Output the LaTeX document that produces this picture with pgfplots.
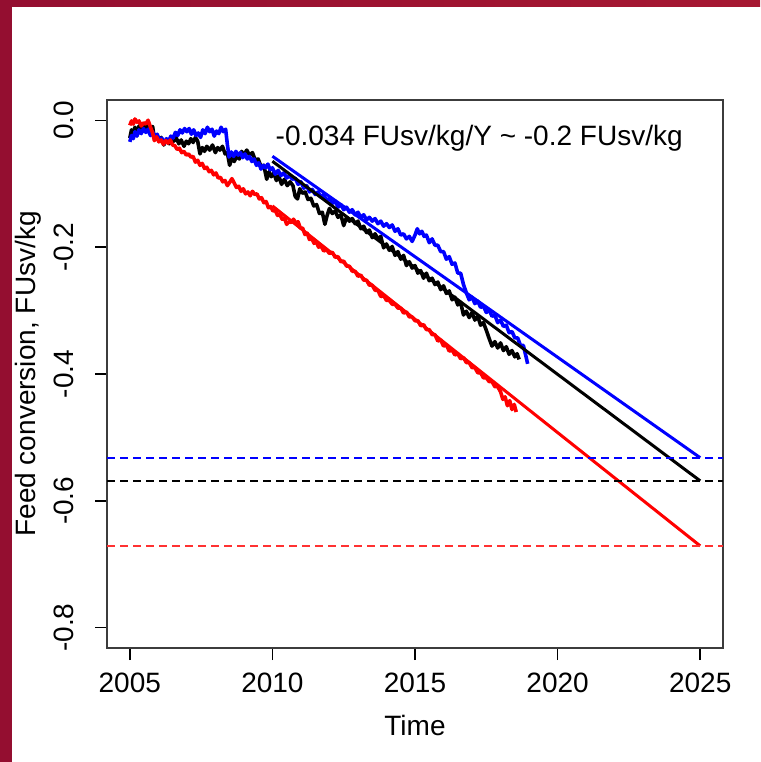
\documentclass[border=0pt]{standalone}
\usepackage{pgfplots}
\pgfplotsset{compat=1.18}
\usepackage{fontspec}
\setmainfont{Liberation Sans}
\definecolor{maroonA}{RGB}{148,14,48}
\definecolor{maroonB}{RGB}{166,24,50}
\definecolor{boxgray}{RGB}{60,60,60}
\definecolor{dashred}{RGB}{255,50,50}

\pgfplotstableread{
yr v
2005.00 -0.034
2005.06 -0.024
2005.12 -0.029
2005.18 -0.018
2005.25 -0.025
2005.32 -0.015
2005.40 -0.021
2005.48 -0.013
2005.56 -0.019
2005.64 -0.014
2005.72 -0.024
2005.80 -0.018
2005.88 -0.027
2005.96 -0.022
2006.04 -0.031
2006.12 -0.028
2006.20 -0.037
2006.28 -0.029
2006.36 -0.033
2006.44 -0.025
2006.52 -0.028
2006.60 -0.019
2006.68 -0.024
2006.76 -0.015
2006.84 -0.020
2006.92 -0.013
2007.00 -0.018
2007.08 -0.013
2007.16 -0.022
2007.24 -0.015
2007.32 -0.024
2007.40 -0.020
2007.48 -0.027
2007.56 -0.015
2007.64 -0.021
2007.72 -0.011
2007.80 -0.018
2007.88 -0.014
2007.96 -0.025
2008.04 -0.017
2008.12 -0.021
2008.20 -0.011
2008.28 -0.018
2008.36 -0.014
2008.42 -0.038
2008.48 -0.058
2008.56 -0.050
2008.64 -0.057
2008.72 -0.049
2008.80 -0.055
2008.88 -0.051
2008.96 -0.059
2009.04 -0.053
2009.12 -0.061
2009.20 -0.057
2009.28 -0.065
2009.36 -0.061
2009.44 -0.071
2009.52 -0.067
2009.60 -0.077
2009.68 -0.071
2009.76 -0.075
2009.84 -0.069
2009.92 -0.078
2010.00 -0.075
2010.10 -0.085
2010.20 -0.079
2010.30 -0.087
2010.40 -0.083
2010.50 -0.091
2010.60 -0.087
2010.70 -0.093
2010.80 -0.091
2010.90 -0.101
2011.00 -0.097
2011.10 -0.107
2011.20 -0.103
2011.30 -0.113
2011.40 -0.109
2011.50 -0.117
2011.60 -0.113
2011.70 -0.121
2011.80 -0.117
2011.90 -0.127
2012.00 -0.123
2012.10 -0.131
2012.20 -0.127
2012.30 -0.137
2012.40 -0.133
2012.50 -0.141
2012.60 -0.137
2012.70 -0.145
2012.80 -0.141
2012.90 -0.149
2013.00 -0.145
2013.10 -0.153
2013.20 -0.149
2013.30 -0.157
2013.40 -0.153
2013.50 -0.159
2013.60 -0.155
2013.70 -0.163
2013.80 -0.159
2013.90 -0.167
2014.00 -0.163
2014.10 -0.169
2014.20 -0.165
2014.30 -0.175
2014.40 -0.171
2014.50 -0.181
2014.60 -0.179
2014.70 -0.187
2014.80 -0.183
2014.90 -0.191
2015.00 -0.181
2015.08 -0.171
2015.16 -0.179
2015.24 -0.175
2015.32 -0.183
2015.40 -0.181
2015.50 -0.193
2015.60 -0.187
2015.70 -0.197
2015.80 -0.197
2015.90 -0.207
2016.00 -0.207
2016.10 -0.219
2016.20 -0.215
2016.30 -0.227
2016.40 -0.225
2016.50 -0.241
2016.60 -0.241
2016.70 -0.259
2016.80 -0.272
2016.90 -0.283
2017.00 -0.279
2017.10 -0.289
2017.20 -0.285
2017.30 -0.295
2017.40 -0.293
2017.50 -0.303
2017.60 -0.299
2017.70 -0.309
2017.80 -0.307
2017.90 -0.319
2018.00 -0.315
2018.10 -0.325
2018.20 -0.323
2018.30 -0.335
2018.40 -0.333
2018.50 -0.343
2018.60 -0.343
2018.70 -0.355
2018.80 -0.355
2018.90 -0.374
2018.95 -0.384
}\bluedata

\pgfplotstableread{
yr v
2005.00 -0.028
2005.06 -0.015
2005.12 -0.020
2005.18 -0.011
2005.25 -0.022
2005.32 -0.009
2005.40 -0.015
2005.48 -0.007
2005.56 -0.013
2005.64 -0.005
2005.72 -0.011
2005.80 -0.010
2005.86 -0.028
2005.94 -0.023
2006.02 -0.033
2006.10 -0.027
2006.19 -0.039
2006.28 -0.031
2006.38 -0.037
2006.46 -0.029
2006.54 -0.033
2006.62 -0.027
2006.72 -0.037
2006.80 -0.031
2006.90 -0.041
2006.98 -0.033
2007.06 -0.037
2007.14 -0.029
2007.22 -0.035
2007.30 -0.027
2007.38 -0.033
2007.46 -0.053
2007.54 -0.043
2007.62 -0.049
2007.70 -0.041
2007.80 -0.047
2007.90 -0.039
2008.00 -0.051
2008.08 -0.043
2008.16 -0.047
2008.25 -0.041
2008.34 -0.053
2008.42 -0.051
2008.50 -0.071
2008.58 -0.059
2008.66 -0.065
2008.75 -0.057
2008.84 -0.061
2008.92 -0.049
2009.00 -0.055
2009.10 -0.047
2009.20 -0.055
2009.30 -0.051
2009.40 -0.063
2009.50 -0.061
2009.60 -0.073
2009.70 -0.071
2009.80 -0.093
2009.88 -0.081
2009.96 -0.089
2010.05 -0.083
2010.14 -0.095
2010.22 -0.087
2010.32 -0.101
2010.42 -0.093
2010.52 -0.103
2010.62 -0.097
2010.72 -0.103
2010.80 -0.120
2010.88 -0.124
2010.96 -0.108
2011.05 -0.115
2011.15 -0.113
2011.25 -0.125
2011.35 -0.123
2011.45 -0.135
2011.55 -0.133
2011.65 -0.147
2011.75 -0.145
2011.84 -0.164
2011.92 -0.150
2012.00 -0.139
2012.10 -0.147
2012.20 -0.143
2012.30 -0.153
2012.40 -0.149
2012.50 -0.166
2012.60 -0.153
2012.70 -0.159
2012.80 -0.155
2012.90 -0.163
2013.00 -0.159
2013.10 -0.171
2013.20 -0.167
2013.30 -0.177
2013.40 -0.173
2013.50 -0.185
2013.60 -0.179
2013.70 -0.187
2013.80 -0.183
2013.90 -0.201
2014.00 -0.195
2014.10 -0.205
2014.20 -0.199
2014.30 -0.213
2014.40 -0.207
2014.50 -0.219
2014.60 -0.213
2014.70 -0.229
2014.80 -0.223
2014.90 -0.233
2015.00 -0.229
2015.10 -0.241
2015.20 -0.237
2015.30 -0.249
2015.40 -0.241
2015.50 -0.253
2015.60 -0.249
2015.70 -0.259
2015.80 -0.255
2015.90 -0.267
2016.00 -0.261
2016.10 -0.273
2016.20 -0.269
2016.30 -0.283
2016.40 -0.279
2016.50 -0.291
2016.60 -0.287
2016.70 -0.307
2016.80 -0.301
2016.90 -0.311
2017.00 -0.303
2017.10 -0.315
2017.20 -0.309
2017.30 -0.323
2017.40 -0.319
2017.50 -0.331
2017.60 -0.344
2017.70 -0.356
2017.80 -0.349
2017.90 -0.359
2018.00 -0.351
2018.10 -0.363
2018.20 -0.357
2018.30 -0.369
2018.40 -0.363
2018.50 -0.373
2018.58 -0.368
2018.65 -0.377
}\blackdata

\pgfplotstableread{
yr v
2005.00 -0.008
2005.06 -0.001
2005.12 -0.006
2005.18 0.002
2005.25 -0.003
2005.32 -0.001
2005.40 -0.009
2005.48 -0.004
2005.56 -0.006
2005.64 0.000
2005.72 -0.010
2005.80 -0.020
2005.86 -0.032
2005.94 -0.026
2006.02 -0.034
2006.10 -0.031
2006.18 -0.038
2006.26 -0.032
2006.34 -0.036
2006.42 -0.031
2006.50 -0.039
2006.58 -0.040
2006.66 -0.046
2006.74 -0.044
2006.82 -0.051
2006.90 -0.049
2006.98 -0.055
2007.06 -0.053
2007.14 -0.058
2007.22 -0.057
2007.30 -0.066
2007.38 -0.063
2007.46 -0.071
2007.54 -0.068
2007.62 -0.076
2007.70 -0.074
2007.78 -0.081
2007.86 -0.079
2007.94 -0.086
2008.02 -0.083
2008.10 -0.091
2008.18 -0.090
2008.26 -0.097
2008.34 -0.095
2008.42 -0.103
2008.50 -0.098
2008.58 -0.092
2008.66 -0.099
2008.74 -0.106
2008.82 -0.104
2008.90 -0.112
2008.98 -0.108
2009.06 -0.116
2009.14 -0.113
2009.22 -0.119
2009.30 -0.112
2009.38 -0.117
2009.46 -0.116
2009.54 -0.124
2009.62 -0.122
2009.70 -0.130
2009.78 -0.128
2009.86 -0.138
2009.94 -0.136
2010.02 -0.143
2010.10 -0.142
2010.18 -0.150
2010.26 -0.148
2010.34 -0.156
2010.42 -0.154
2010.50 -0.164
2010.58 -0.160
2010.66 -0.161
2010.74 -0.156
2010.82 -0.162
2010.90 -0.160
2010.98 -0.170
2011.06 -0.170
2011.14 -0.180
2011.22 -0.178
2011.30 -0.188
2011.38 -0.186
2011.46 -0.194
2011.54 -0.192
2011.62 -0.200
2011.70 -0.198
2011.80 -0.206
2011.90 -0.204
2012.00 -0.210
2012.10 -0.208
2012.20 -0.216
2012.30 -0.215
2012.40 -0.223
2012.50 -0.222
2012.60 -0.230
2012.70 -0.230
2012.80 -0.238
2012.90 -0.238
2013.00 -0.246
2013.10 -0.244
2013.20 -0.252
2013.30 -0.252
2013.40 -0.260
2013.50 -0.260
2013.60 -0.268
2013.70 -0.268
2013.80 -0.278
2013.90 -0.276
2014.00 -0.284
2014.10 -0.284
2014.20 -0.290
2014.30 -0.290
2014.40 -0.296
2014.50 -0.296
2014.60 -0.304
2014.70 -0.302
2014.80 -0.310
2014.90 -0.310
2015.00 -0.316
2015.10 -0.316
2015.20 -0.324
2015.30 -0.322
2015.40 -0.330
2015.50 -0.330
2015.60 -0.338
2015.70 -0.338
2015.80 -0.348
2015.90 -0.346
2016.00 -0.356
2016.10 -0.354
2016.20 -0.364
2016.30 -0.362
2016.40 -0.370
2016.50 -0.368
2016.60 -0.376
2016.70 -0.374
2016.80 -0.382
2016.90 -0.382
2017.00 -0.390
2017.10 -0.390
2017.20 -0.398
2017.30 -0.398
2017.40 -0.406
2017.50 -0.406
2017.60 -0.412
2017.70 -0.412
2017.80 -0.420
2017.90 -0.420
2018.00 -0.428
2018.08 -0.440
2018.16 -0.436
2018.24 -0.450
2018.32 -0.442
2018.40 -0.456
2018.48 -0.448
2018.55 -0.460
}\reddata

\begin{document}
\begin{tikzpicture}[x=1pt,y=1pt]
% page background and the maroon frame strips
\fill[white] (0,0) rectangle (760,762);
\shade[left color=maroonA, right color=maroonB] (0,755) rectangle (760,762);
\fill[maroonA] (0,0) rectangle (12,762);

\begin{axis}[
    at={(107pt,114pt)}, anchor=south west,
    width=616pt, height=548pt, scale only axis,
    xmin=2004.2, xmax=2025.8,
    ymin=-0.832, ymax=0.032,
    xtick={2005,2010,2015,2020,2025},
    xticklabels={2005,2010,2015,2020,2025},
    ytick={-0.8,-0.6,-0.4,-0.2,0},
    yticklabels={-0.8,-0.6,-0.4,-0.2,0.0},
    xtick pos=bottom, ytick pos=left,
    tick align=outside,
    major tick length=12pt,
    tick style={black, line width=1.4pt},
    axis line style={boxgray, line width=1.5pt},
    ticklabel style={font=\fontsize{28}{32}\selectfont},
    xticklabel style={yshift=-9pt},
    yticklabel style={xshift=-18pt, rotate=90, anchor=south},
    xlabel={Time},
    ylabel={Feed conversion, FUsv/kg},
    label style={font=\fontsize{28}{32}\selectfont},
    xlabel style={at={(axis description cs:0.5,-0.1405)}, anchor=center},
    ylabel style={at={(axis description cs:-0.128,0.5)}, anchor=center, rotate=0},
    /pgf/number format/assume math mode=true,
]
\addplot[black, line width=3.6pt, line join=round] table[x=yr, y=v] {\blackdata};
\addplot[blue, line width=3.6pt, line join=round] table[x=yr, y=v] {\bluedata};
\addplot[red, line width=3.6pt, line join=round] table[x=yr, y=v] {\reddata};

\addplot[blue, line width=3pt] coordinates {(2010,-0.0567) (2025,-0.532)};
\addplot[black, line width=3pt] coordinates {(2010,-0.0646) (2025,-0.5685)};
\addplot[red, line width=3pt] coordinates {(2010,-0.135) (2025,-0.671)};

\addplot[blue, line width=1.6pt, dash pattern=on 8pt off 5pt] coordinates {(2004.2,-0.532) (2025.8,-0.532)};
\addplot[black, line width=1.6pt, dash pattern=on 8pt off 5pt] coordinates {(2004.2,-0.5685) (2025.8,-0.5685)};
\addplot[dashred, line width=1.6pt, dash pattern=on 8pt off 5pt] coordinates {(2004.2,-0.671) (2025.8,-0.671)};

\node[font=\fontsize{28}{32}\selectfont, anchor=center] at (axis cs:2017.25,-0.028) {-0.034 FUsv/kg/Y \textasciitilde{} -0.2 FUsv/kg};
\end{axis}
\end{tikzpicture}
\end{document}
